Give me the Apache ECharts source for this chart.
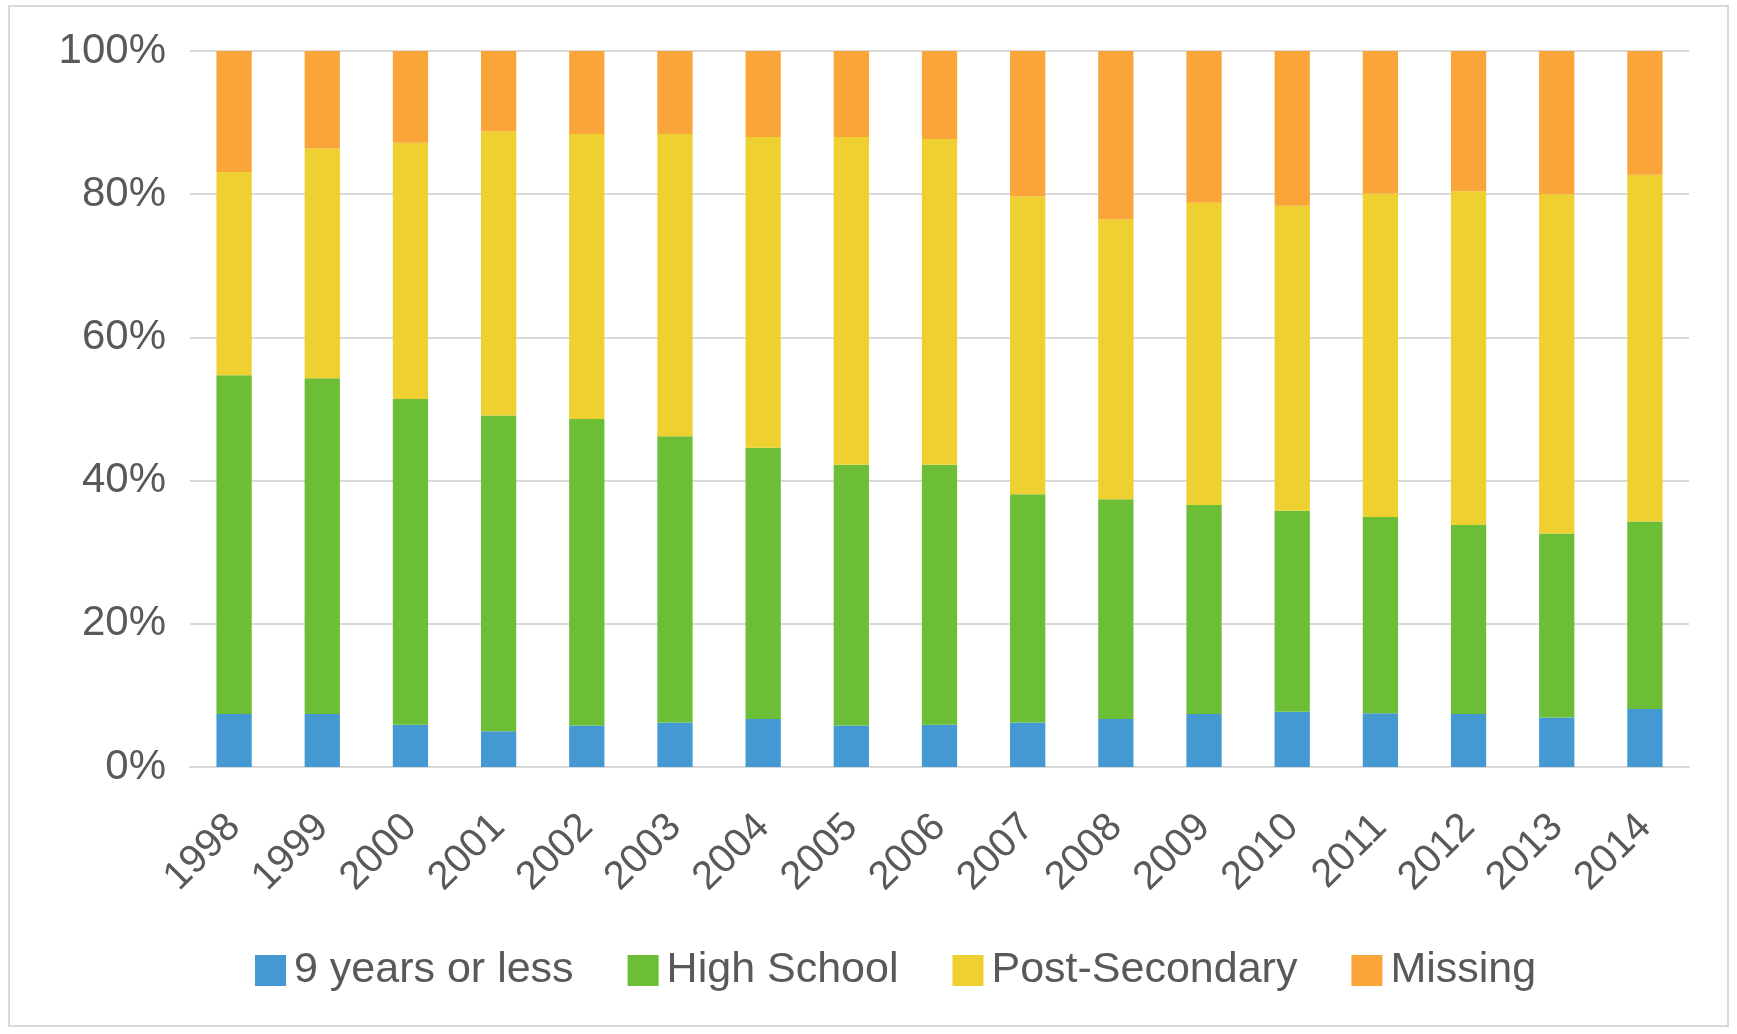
<!DOCTYPE html>
<html>
<head>
<meta charset="utf-8">
<script src="https://cdn.jsdelivr.net/npm/echarts@6/dist/echarts.min.js"></script>
<style>
  html, body { margin: 0; padding: 0; background: #ffffff; }
  #chart { width: 1737px; height: 1034px; }
</style>
</head>
<body>
<div id="chart"></div>
<script>
// Category labels (years)
const years = ['1998','1999','2000','2001','2002','2003','2004','2005','2006','2007','2008','2009','2010','2011','2012','2013','2014'];

// Series values (percent shares, stacked to 100%)
const nineYearsOrLess = [7.4, 7.4, 5.9, 5.0, 5.8, 6.2, 6.7, 5.8, 5.9, 6.2, 6.7, 7.4, 7.7, 7.5, 7.4, 6.9, 8.1];
const highSchool      = [47.3, 46.9, 45.5, 44.1, 42.8, 40.0, 37.9, 36.4, 36.3, 31.9, 30.7, 29.2, 28.1, 27.4, 26.4, 25.7, 26.2];
const postSecondary   = [28.4, 32.1, 35.8, 39.7, 39.8, 42.2, 43.4, 45.8, 45.5, 41.6, 39.1, 42.2, 42.6, 45.2, 46.6, 47.4, 48.4];
const missing         = [16.9, 13.6, 12.8, 11.2, 11.6, 11.6, 12.0, 12.0, 12.3, 20.3, 23.5, 21.2, 21.6, 19.9, 19.6, 20.0, 17.3];

const seriesNames = ['9 years or less', 'High School', 'Post-Secondary', 'Missing'];
const seriesColors = ['#4599d3', '#6cbe37', '#eed030', '#f9a53a'];
const seriesData = [nineYearsOrLess, highSchool, postSecondary, missing];

const FONT = '"Liberation Sans", Arial, sans-serif';
const TEXT = '#595959';

const chart = echarts.init(document.getElementById('chart'), null, { renderer: 'canvas' });

chart.setOption({
  animation: false,
  backgroundColor: '#ffffff',
  textStyle: { fontFamily: FONT },
  graphic: [{
    type: 'rect',
    shape: { x: 9, y: 6, width: 1719, height: 1020 },
    style: { fill: 'none', stroke: '#d9d9d9', lineWidth: 2 },
    silent: true
  }],
  grid: { left: 190, right: 48, top: 51, bottom: 267 },
  legend: {
    data: seriesNames,
    left: 250,
    top: 944,
    itemWidth: 31,
    itemHeight: 31,
    itemGap: 54,
    icon: 'rect',
    textStyle: { fontFamily: FONT, fontSize: 43, color: TEXT, padding: [0, 0, 0, 3] }
  },
  xAxis: {
    type: 'category',
    data: years,
    axisLine: { show: true, lineStyle: { color: '#d9d9d9', width: 2 } },
    axisTick: { show: false },
    axisLabel: {
      rotate: 45,
      interval: 0,
      margin: 54,
      fontFamily: FONT,
      fontSize: 40,
      color: TEXT
    }
  },
  yAxis: {
    type: 'value',
    min: 0,
    max: 100,
    interval: 20,
    axisLine: { show: false },
    axisTick: { show: false },
    splitLine: { lineStyle: { color: '#d9d9d9', width: 2 } },
    axisLabel: {
      margin: 24,
      fontFamily: FONT,
      fontSize: 42,
      color: TEXT,
      formatter: function (v) { return v + '%'; }
    }
  },
  series: seriesNames.map(function (name, i) {
    return {
      name: name,
      type: 'bar',
      stack: 'total',
      barWidth: '40%',
      itemStyle: { color: seriesColors[i] },
      data: seriesData[i]
    };
  })
});
</script>
</body>
</html>
